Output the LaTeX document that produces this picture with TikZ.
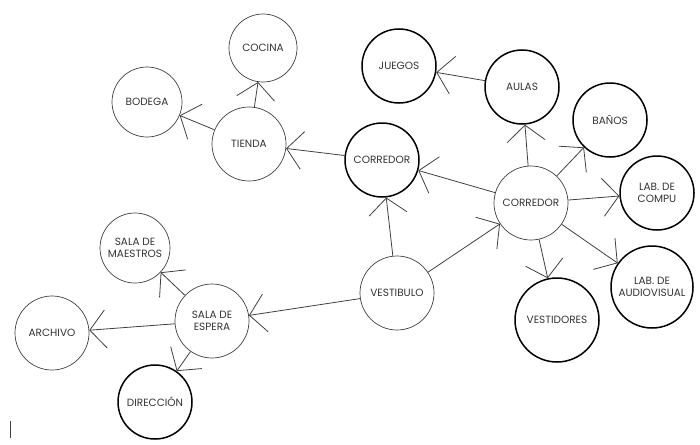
\documentclass[tikz,border=0pt]{standalone}
\usepackage{fontspec}
\setmainfont{Poppins}
\usetikzlibrary{arrows.meta}
\begin{document}
\begin{tikzpicture}[x=1pt,y=-1pt,
  room/.style={circle,draw=black!75,line width=0.7pt,align=center,inner sep=0pt,
    font=\fontsize{10.5}{12.5}\selectfont,text=black!80},
  bold/.style={draw=black,line width=1.5pt},
  link/.style={draw=black!75,line width=0.8pt,-{Straight Barb[length=16pt,width=38pt,line width=0.8pt]}}]
\useasboundingbox (0,0) rectangle (700,444);
\node[room,minimum size=68pt] (cocina) at (263,48) {COCINA};
\node[room,minimum size=70pt] (bodega) at (147,102) {BODEGA};
\node[room,minimum size=74pt] (tienda) at (249,144) {TIENDA};
\node[room,bold,minimum size=74pt] (corl) at (382,160) {CORREDOR};
\node[room,bold,minimum size=74pt] (juegos) at (399,66) {JUEGOS};
\node[room,bold,minimum size=74pt] (aulas) at (522,87) {AULAS};
\node[room,bold,minimum size=74pt] (banos) at (610,120) {BAÑOS};
\node[room,minimum size=74pt] (corr) at (531,203) {CORREDOR};
\node[room,bold,minimum size=74pt] (compu) at (657,193) {LAB. DE\\COMPU};
\node[room,bold,minimum size=82pt] (audio) at (652,287) {LAB. DE\\AUDIOVISUAL};
\node[room,bold,minimum size=84pt] (vest) at (557,320) {VESTIDORES};
\node[room,minimum size=74pt] (vestibulo) at (397,293) {VESTIBULO};
\node[room,minimum size=74pt] (espera) at (212,321) {SALA DE\\ESPERA};
\node[room,minimum size=70pt] (maestros) at (135,248) {SALA DE\\MAESTROS};
\node[room,minimum size=74pt] (archivo) at (52,333) {ARCHIVO};
\node[room,bold,minimum size=74pt] (direccion) at (155,402) {DIRECCIÓN};
\coordinate (m1) at (10,421);
\coordinate (m2) at (10,438);
\draw[link] (tienda) -- (cocina);
\draw[link] (tienda) -- (bodega);
\draw[link] (corl) -- (tienda);
\draw[link] (vestibulo) -- (corl);
\draw[link] (corr) -- (corl);
\draw[link] (vestibulo) -- (corr);
\draw[link] (corr) -- (aulas);
\draw[link] (aulas) -- (juegos);
\draw[link] (corr) -- (banos);
\draw[link] (corr) -- (compu);
\draw[link] (corr) -- (audio);
\draw[link] (corr) -- (vest);
\draw[link] (vestibulo) -- (espera);
\draw[link] (espera) -- (maestros);
\draw[link] (espera) -- (archivo);
\draw[link] (espera) -- (direccion);
\draw[black!75,line width=0.8pt] (m1) -- (m2);
\end{tikzpicture}
\end{document}
